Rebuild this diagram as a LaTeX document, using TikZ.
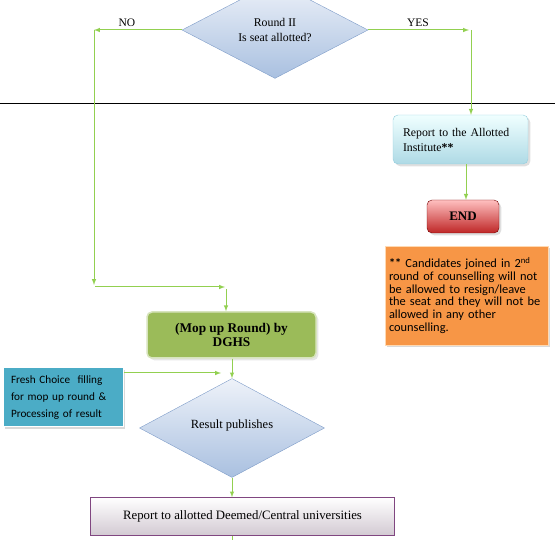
\documentclass[tikz,border=0pt]{standalone}
\usepackage{fontspec}
\setmainfont{Liberation Serif}
\newfontfamily\calibri{Carlito}
\usetikzlibrary{shapes.geometric,shadows}

\definecolor{arrowgreen}{HTML}{92D050}
\definecolor{diamtop}{HTML}{EEF2F9}
\definecolor{diambot}{HTML}{A9C0E0}
\definecolor{diamline}{HTML}{7E9CC8}
\definecolor{mopgreen}{HTML}{9BBB59}
\definecolor{freshblue}{HTML}{4BACC6}
\definecolor{noteorange}{HTML}{F79646}

\tikzset{
  arr/.style={draw=arrowgreen, line width=1pt, -latex},
  decision/.style={diamond, draw=diamline, top color=diamtop, bottom color=diambot,
    inner sep=0pt, align=center, font=\fontsize{11.8}{13}\selectfont},
  roundbox/.style={rectangle, rounded corners=5pt, inner sep=0pt},
}

\begin{document}
\begin{tikzpicture}[x=1pt, y=-1pt]
    \useasboundingbox (0,0) rectangle (555,540);
    \draw[black, line width=1pt] (0,104) -- (555,104);

    % round II decision
    \node[decision, minimum width=186, minimum height=76] (q1) at (275,30)
      {\raisebox{2pt}{Round II}\\Is seat allotted?};
    \node[font=\fontsize{11.5}{13}\selectfont] (nolbl) at (127,23) {NO};
    \node[font=\fontsize{11.5}{13}\selectfont] (yeslbl) at (418,23) {YES};

    % right hand side
    \node[roundbox, draw=freshblue!60, top color=cyan!6, bottom color=freshblue!45,
      minimum width=135, minimum height=49, text width=115, align=left,
      font=\fontsize{11.8}{14}\selectfont, drop shadow={opacity=0.25}] (report) at (460.5,139.5)
      {\raisebox{4pt}{Report to the Allotted}\\[-3pt]Institute\textbf{**}};
    \node[roundbox, draw=red!45!black, top color=red!25, bottom color=red!70!black!85,
      minimum width=72, minimum height=33, font=\bfseries\fontsize{13}{14}\selectfont,
      drop shadow={opacity=0.25}] (endbox) at (463,216.5) {END};
    \node[rectangle, fill=noteorange, draw=orange!30, minimum width=163, minimum height=99,
      text width=155, align=left, font=\calibri\fontsize{12.4}{12.7}\selectfont,
      drop shadow={opacity=0.3}] (note) at (466.5,295.5)
      {\textbf{**} Candidates joined in 2\textsuperscript{nd}\\round of counselling will not\\be allowed to resign/leave\\the seat and they will not be\\allowed in any other\\counselling.};

    % mop up round
    \node[roundbox, fill=mopgreen, draw=mopgreen!40, line width=1.5pt,
      minimum width=169, minimum height=46, align=center,
      font=\bfseries\fontsize{13.3}{13.5}\selectfont, drop shadow={opacity=0.2}] (mopup) at (231.5,335)
      {(Mop up Round) by\\DGHS};
    \node[rectangle, fill=freshblue, draw=white, line width=1pt,
      minimum width=120, minimum height=59, text width=104, align=left,
      font=\calibri\fontsize{11.2}{16.7}\selectfont, drop shadow={opacity=0.3}] (fresh) at (63,397.5)
      {Fresh Choice\ \ filling\\for mop up round \&\\Processing of result};
    \node[decision, minimum width=185, minimum height=71,
      font=\fontsize{12.5}{14}\selectfont] (q2) at (232,428)
      {\raisebox{8pt}{Result publishes}};
    \node[rectangle, draw=violet!45!gray, top color=white, bottom color=violet!20!gray!35,
      minimum width=304, minimum height=38, font=\fontsize{12.8}{14}\selectfont] (deemed) at (242.5,516.5)
      {Report to allotted Deemed/Central universities};

    \coordinate (noL) at (94,30);
    \coordinate (noD) at (94,285);
    \coordinate (noS) at (95,287);
    \coordinate (noR) at (225,287);
    \coordinate (noT) at (226,289);
    \coordinate (yesR) at (469,30);
    \coordinate (yesT) at (471,30);
    \coordinate (endT) at (466,166);
    \coordinate (freshIn) at (221,373);
    \coordinate (out) at (232,548);

    \draw[arr] (q1.west) -- (noL);
    \draw[arr] (noL) -- (noD);
    \draw[arr] (noS) -- (noR);
    \draw[arr] (noT) -- (mopup.north -| noT);
    \draw[arr] (q1.east) -- (yesR);
    \draw[arr] (yesT) -- (report.north -| yesT);
    \draw[arr] (report.south -| endT) -- (endbox.north -| endT);
    \draw[arr] (fresh.east |- freshIn) -- (freshIn);
    \draw[arr] (mopup.south -| q2.north) -- (q2.north);
    \draw[arr] (q2.south) -- (deemed.north -| q2.south);
    \draw[draw=arrowgreen, line width=1pt] (deemed.south -| q2.south) -- (out);
  \end{tikzpicture}
\end{document}
